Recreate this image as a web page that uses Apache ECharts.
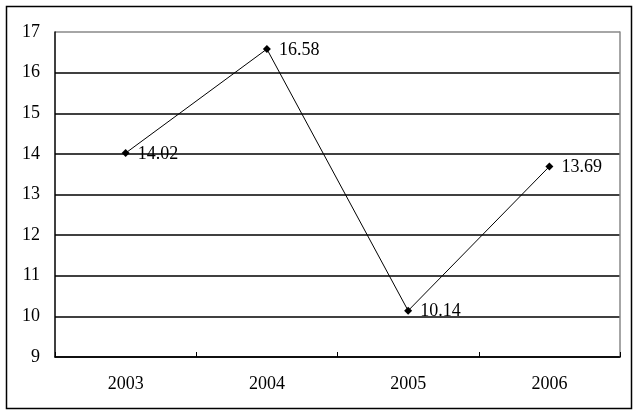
<!DOCTYPE html>
<html><head><meta charset="utf-8">
<script src="https://cdn.jsdelivr.net/npm/echarts@6/dist/echarts.min.js"></script>
<style>html,body{margin:0;padding:0;background:#fff}#c{width:640px;height:416px}</style>
</head><body><div id="c"></div>
<script>
const years = ['2003', '2004', '2005', '2006'];
const values = [14.02, 16.58, 10.14, 13.69];
const yMin = 9, yMax = 17, yStep = 1;

const font = '"Liberation Serif", "DejaVu Serif", serif';
const chart = echarts.init(document.getElementById('c'), null, {renderer: 'canvas'});
const splitColors = [];
for (let v = yMin; v <= yMax; v += yStep) splitColors.push(v === yMax ? '#888888' : '#000000');
chart.setOption({
  animation: false,
  backgroundColor: '#fff',
  grid: {left: 55, right: 20, top: 32, bottom: 59, containLabel: false},
  graphic: [{
    type: 'rect', silent: true, z: 0,
    shape: {x: 6.5, y: 6.5, width: 625, height: 402},
    style: {fill: 'none', stroke: '#000', lineWidth: 1.5}
  }],
  xAxis: {
    type: 'category', data: years, boundaryGap: true,
    axisLine: {lineStyle: {color: '#000', width: 1.5}},
    axisTick: {show: true, inside: true, length: 5, lineStyle: {color: '#000'}},
    axisLabel: {color: '#000', fontFamily: font, fontSize: 18, margin: 18},
    splitLine: {show: false}
  },
  yAxis: [{
    type: 'value', min: yMin, max: yMax, interval: yStep,
    axisLine: {show: true, lineStyle: {color: '#000', width: 1.5}},
    axisTick: {show: false},
    axisLabel: {color: '#000', fontFamily: font, fontSize: 18, margin: 15},
    splitLine: {show: true, lineStyle: {color: splitColors, width: 1.5}}
  }, {
    type: 'value', min: yMin, max: yMax, interval: yStep, position: 'right',
    axisLine: {show: true, lineStyle: {color: '#888', width: 1.5}},
    axisTick: {show: false}, axisLabel: {show: false}, splitLine: {show: false}
  }],
  series: [{
    type: 'line', data: values, yAxisIndex: 0,
    symbol: 'diamond', symbolSize: 8,
    itemStyle: {color: '#000'},
    lineStyle: {color: '#000', width: 1},
    label: {show: true, position: 'right', distance: 8, color: '#000',
      fontFamily: font, fontSize: 18, offset: [0, 1]}
  }]
});
</script></body></html>
